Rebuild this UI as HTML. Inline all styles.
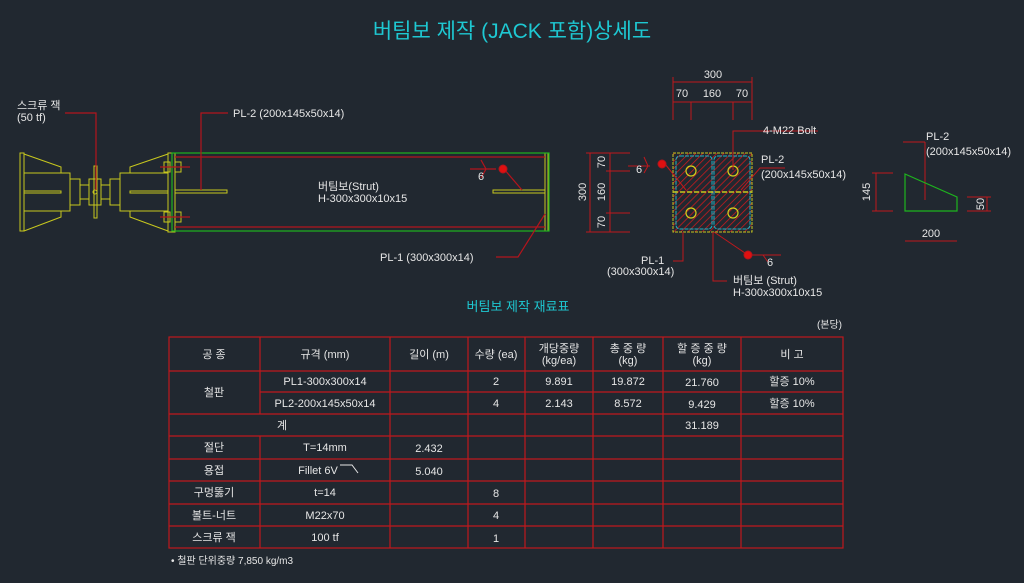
<!DOCTYPE html><html><head><meta charset="utf-8"><style>
body{margin:0;background:#212830;width:1024px;height:583px;overflow:hidden}
svg{display:block}
text{font-family:"Liberation Sans","Noto Sans CJK KR",sans-serif;fill:#e6e6e6;font-size:11px}
</style></head><body>
<svg width="1024" height="583" viewBox="0 0 1024 583">
<defs><pattern id="h" width="5" height="5" patternUnits="userSpaceOnUse" patternTransform="rotate(45)"><line x1="0" y1="0" x2="0" y2="5" stroke="#d01a1e" stroke-width="1.5"/></pattern></defs>
<text x="512" y="38" text-anchor="middle" style="fill:#1ec8d2;font-size:21px">버팀보 제작 (JACK 포함)상세도</text>
<g fill="none" stroke="#c8c81e" stroke-width="1">
<rect x="20" y="153" width="4" height="78"/>
<polyline points="24,154 61,167 61,173"/><polyline points="24,231 61,217 61,211"/>
<rect x="24" y="173" width="46" height="38"/><rect x="24" y="191" width="37" height="2"/>
<rect x="70" y="179" width="10" height="26"/><rect x="80" y="185" width="9" height="14"/>
<rect x="94" y="166" width="3" height="52"/><rect x="89" y="179" width="12" height="26"/>
<rect x="101" y="185" width="9" height="14"/><rect x="110" y="179" width="10" height="26"/>
<rect x="120" y="173" width="48" height="38"/><rect x="130" y="191" width="38" height="2"/>
<polyline points="130,173 130,167 168,154"/><polyline points="130,211 130,217 168,231"/>
<rect x="168" y="153" width="4" height="79"/><rect x="172" y="153" width="3" height="79"/>
<rect x="164" y="162" width="6" height="10"/><rect x="175" y="162" width="6" height="10"/>
<rect x="164" y="212" width="6" height="10"/><rect x="175" y="212" width="6" height="10"/>
<rect x="175" y="190" width="52" height="3"/><rect x="493" y="190" width="52" height="3"/>
<rect x="545" y="153" width="3" height="78"/>
</g>
<circle cx="95" cy="192" r="2" fill="none" stroke="#c8c81e"/>
<rect x="172" y="153" width="377" height="78" fill="none" stroke="#1eb41e" stroke-width="1.2"/>
<g stroke="#b4141c" stroke-width="1.2" fill="none">
<line x1="175" y1="157" x2="545" y2="157"/><line x1="175" y1="227" x2="545" y2="227"/>
<line x1="160" y1="167" x2="190" y2="167"/><line x1="160" y1="217" x2="190" y2="217"/>
<polyline points="65,113 96,113 96,190"/>
<polyline points="228,113 201,113 201,190"/>
<polyline points="470,169 496,169"/><polyline points="481,160 486,169 481,178"/>
<line x1="504" y1="169" x2="522" y2="190"/>
<polyline points="496,257 518,257 545,214"/>
</g>
<circle cx="503" cy="169" r="4" fill="#e01010" stroke="#b4141c"/>
<text x="17" y="109">스크류 잭</text><text x="17" y="121">(50 tf)</text>
<text x="233" y="117">PL-2 (200x145x50x14)</text>
<text x="318" y="190">버팀보(Strut)</text><text x="318" y="202">H-300x300x10x15</text>
<text x="478" y="180">6</text>
<text x="380" y="261">PL-1 (300x300x14)</text>
<rect x="673" y="153" width="79" height="79" fill="url(#h)"/>
<rect x="673" y="153" width="79" height="79" fill="none" stroke="#c8c81e" stroke-dasharray="3,1"/>
<rect x="676" y="156" width="36" height="73" rx="4" fill="none" stroke="#1eb4c8" stroke-dasharray="4,1"/>
<rect x="714" y="156" width="36" height="73" rx="4" fill="none" stroke="#1eb4c8" stroke-dasharray="4,1"/>
<line x1="673" y1="192" x2="752" y2="192" stroke="#c8c81e" stroke-dasharray="5,2" stroke-width="1.5"/>
<g fill="none" stroke="#d2d21e" stroke-width="1.2"><circle cx="691" cy="171" r="5"/><circle cx="733" cy="171" r="5"/><circle cx="691" cy="213" r="5"/><circle cx="733" cy="213" r="5"/></g>
<g stroke="#c0181c" stroke-width="1" fill="none">
<line x1="673" y1="82" x2="752" y2="82"/><line x1="673" y1="102" x2="752" y2="102"/>
<line x1="673" y1="77" x2="673" y2="120"/><line x1="752" y1="77" x2="752" y2="120"/>
<line x1="691" y1="102" x2="691" y2="120"/><line x1="733" y1="102" x2="733" y2="120"/>
<line x1="590" y1="153" x2="590" y2="232"/><line x1="610" y1="153" x2="610" y2="232"/>
<line x1="586" y1="153" x2="630" y2="153"/><line x1="586" y1="232" x2="630" y2="232"/>
<line x1="606" y1="171" x2="630" y2="171"/><line x1="606" y1="213" x2="630" y2="213"/>
<polyline points="818,131 733,131 733,170"/>
<polyline points="785,168 760,168 741,190"/>
<polyline points="628,166 650,166"/><polyline points="644,157 648,166 644,173"/>
<line x1="665" y1="164" x2="686" y2="190"/>
<polyline points="673,261 683,261 683,232"/>
<polyline points="727,281 713,281 713,232"/>
<line x1="714" y1="232" x2="745" y2="253"/>
<polyline points="750,255 781,255"/><polyline points="763,255 768,262"/>
<line x1="903" y1="142" x2="925" y2="142"/><line x1="925" y1="142" x2="925" y2="200"/>
<line x1="876" y1="173" x2="876" y2="211"/><line x1="872" y1="173" x2="893" y2="173"/><line x1="872" y1="211" x2="893" y2="211"/>
<line x1="905" y1="241" x2="957" y2="241"/>
<line x1="987" y1="197" x2="987" y2="211"/><line x1="967" y1="197" x2="991" y2="197"/><line x1="967" y1="211" x2="991" y2="211"/>
</g>
<circle cx="662" cy="164" r="4" fill="#e01010" stroke="#b4141c"/>
<circle cx="748" cy="255" r="4" fill="#e01010" stroke="#b4141c"/>
<polygon points="905,174 957,197 957,211 905,211" fill="none" stroke="#1eb41e" stroke-width="1.2"/>
<text x="713" y="78" text-anchor="middle">300</text>
<text x="682" y="97" text-anchor="middle">70</text><text x="712" y="97" text-anchor="middle">160</text><text x="742" y="97" text-anchor="middle">70</text>
<text transform="translate(586,192) rotate(-90)" text-anchor="middle">300</text>
<text transform="translate(605,162) rotate(-90)" text-anchor="middle">70</text>
<text transform="translate(605,192) rotate(-90)" text-anchor="middle">160</text>
<text transform="translate(605,222) rotate(-90)" text-anchor="middle">70</text>
<text transform="translate(870,192) rotate(-90)" text-anchor="middle">145</text>
<text transform="translate(984,204) rotate(-90)" text-anchor="middle">50</text>
<text x="931" y="237" text-anchor="middle">200</text>
<text x="636" y="173">6</text><text x="767" y="266">6</text>
<text x="763" y="134">4-M22 Bolt</text>
<text x="761" y="163">PL-2</text><text x="761" y="178">(200x145x50x14)</text>
<text x="926" y="140">PL-2</text><text x="926" y="155">(200x145x50x14)</text>
<text x="641" y="264">PL-1</text><text x="607" y="275">(300x300x14)</text>
<text x="733" y="284">버팀보 (Strut)</text><text x="733" y="296">H-300x300x10x15</text>
<text x="518" y="311" text-anchor="middle" style="fill:#1ec8d2;font-size:13px">버팀보 제작 재료표</text>
<text x="842" y="328" text-anchor="end" style="font-size:10px">(본당)</text>
<g stroke="#c0181c" stroke-width="1.2" fill="none">
<rect x="169" y="337" width="674" height="211"/>
<line x1="169" y1="371" x2="843" y2="371"/><line x1="260" y1="392" x2="843" y2="392"/>
<line x1="169" y1="414" x2="843" y2="414"/><line x1="169" y1="436" x2="843" y2="436"/>
<line x1="169" y1="459" x2="843" y2="459"/><line x1="169" y1="481" x2="843" y2="481"/>
<line x1="169" y1="504" x2="843" y2="504"/><line x1="169" y1="526" x2="843" y2="526"/>
<line x1="260" y1="337" x2="260" y2="414"/><line x1="260" y1="436" x2="260" y2="548"/>
<line x1="390" y1="337" x2="390" y2="548"/><line x1="468" y1="337" x2="468" y2="548"/>
<line x1="525" y1="337" x2="525" y2="548"/><line x1="593" y1="337" x2="593" y2="548"/>
<line x1="663" y1="337" x2="663" y2="548"/><line x1="741" y1="337" x2="741" y2="548"/>
</g>
<g text-anchor="middle" style="font-size:10px">
<text x="214" y="358">공 종</text><text x="325" y="358">규격 (mm)</text><text x="429" y="358">길이 (m)</text><text x="496" y="358">수량 (ea)</text>
<text x="559" y="352">개당중량</text><text x="559" y="364">(kg/ea)</text>
<text x="628" y="352">총 중 량</text><text x="628" y="364">(kg)</text>
<text x="702" y="352">할 증 중 량</text><text x="702" y="364">(kg)</text>
<text x="792" y="358">비 고</text>
<text x="214" y="396">철판</text>
<text x="325" y="385">PL1-300x300x14</text><text x="496" y="385">2</text><text x="559" y="385">9.891</text><text x="628" y="385">19.872</text><text x="702" y="386">21.760</text><text x="792" y="385">할증 10%</text>
<text x="325" y="407">PL2-200x145x50x14</text><text x="496" y="407">4</text><text x="559" y="407">2.143</text><text x="628" y="407">8.572</text><text x="702" y="408">9.429</text><text x="792" y="407">할증 10%</text>
<text x="282" y="429">계</text><text x="702" y="429">31.189</text>
<text x="214" y="451">절단</text><text x="325" y="451">T=14mm</text><text x="429" y="452">2.432</text>
<text x="214" y="474">용접</text><text x="318" y="474">Fillet 6V</text><text x="429" y="475">5.040</text>
<text x="214" y="496">구멍뚫기</text><text x="325" y="496">t=14</text><text x="496" y="497">8</text>
<text x="214" y="519">볼트-너트</text><text x="325" y="519">M22x70</text><text x="496" y="519">4</text>
<text x="214" y="541">스크류 잭</text><text x="325" y="541">100 tf</text><text x="496" y="542">1</text>
</g>
<polyline points="340,465 352,465 358,473" fill="none" stroke="#e6e6e6" stroke-width="1"/>
<text x="171" y="564" style="font-size:10px">• 철판 단위중량 7,850 kg/m3</text>
</svg></body></html>
